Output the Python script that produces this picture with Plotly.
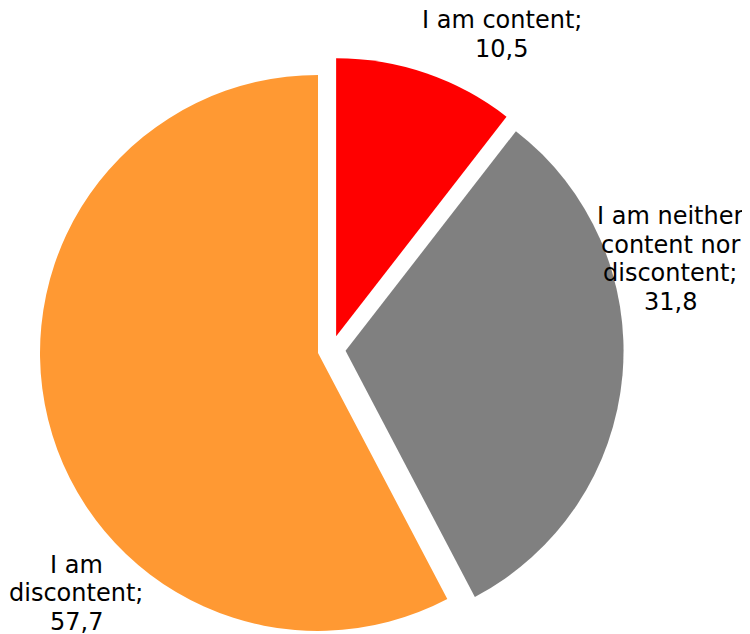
import numpy as np
import plotly.graph_objects as go

# ---- data ----
categories = ["I am content;", "I am neither content nor discontent;", "I am discontent;"]
label_lines = [["I am content;"], ["I am neither", "content nor", "discontent;"], ["I am", "discontent;"]]
values = [10.5, 31.8, 57.7]
value_text = ["10,5", "31,8", "57,7"]
colors = ["#FF0000", "#808080", "#FF9933"]

# ---- layout constants ----
W, H = 750, 634
OFF = 8                  # page body margin compensation
CX, CY = 331.6 - OFF, 349.6 - OFF   # unexploded pie centre (px from top-left)
R = 278                  # radius in px
PULL = 14                # explosion distance in px
FONT = "DejaVu Sans"
FSIZE = 24

label_x = [501.5, 670, 76]
label_baselines = [[28.3, 57.0], [225, 253.3, 281.7, 310], [573.3, 601.7, 630]]

fig = go.Figure()
total = float(sum(values))
start = 0.0
for i, v in enumerate(values):
    mid = (start + v / 2.0) / total * 2 * np.pi
    start += v
    cx = CX + PULL * np.sin(mid)
    cy = CY - PULL * np.cos(mid)
    x0, x1 = (cx - R) / W, (cx + R) / W
    y0, y1 = (H - cy - R) / H, (H - cy + R) / H
    cols = [colors[k] if k == i else "rgba(0,0,0,0)" for k in range(len(values))]
    fig.add_trace(go.Pie(
        labels=categories, values=values, sort=False, direction="clockwise",
        rotation=0, marker=dict(colors=cols, line=dict(width=0)),
        textinfo="none", hoverinfo="skip", showlegend=False,
        domain=dict(x=[max(0, x0), min(1, x1)], y=[max(0, y0), min(1, y1)]),
    ))

for i in range(len(values)):
    lines = label_lines[i] + [value_text[i]]
    for line, base in zip(lines, label_baselines[i]):
        py = base - 8.5 - OFF
        fig.add_annotation(
            x=(label_x[i] - OFF) / W, y=1 - py / H, xref="paper", yref="paper",
            text=line, showarrow=False, xanchor="center", yanchor="middle",
            font=dict(family=FONT, size=FSIZE, color="#000000"),
        )

fig.update_layout(
    width=W, height=H, margin=dict(l=0, r=0, t=0, b=0),
    paper_bgcolor="white", plot_bgcolor="white",
)
fig.write_html("out.html")
